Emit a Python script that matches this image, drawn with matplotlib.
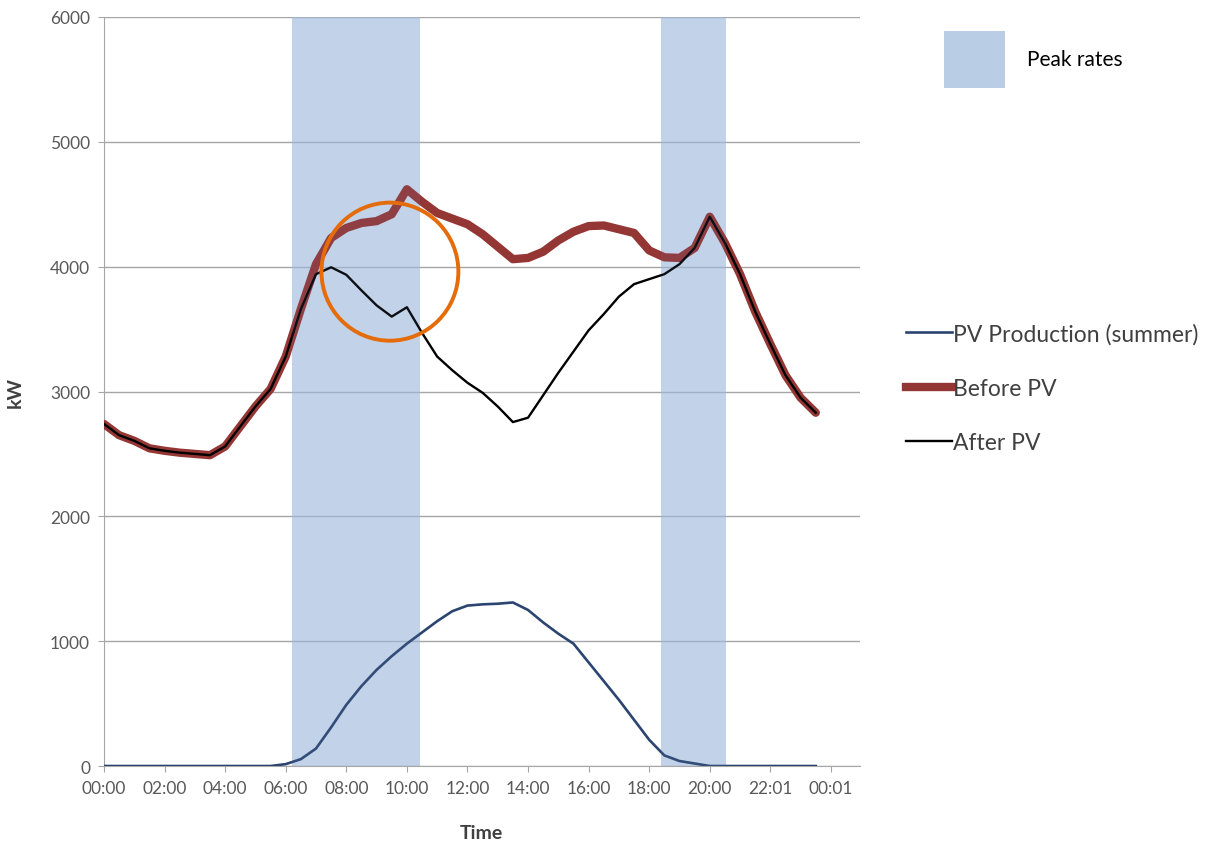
import matplotlib
matplotlib.use("Agg")
import matplotlib.pyplot as plt
from matplotlib.lines import Line2D
from matplotlib.patches import Patch, Ellipse

plt.rcParams['font.family'] = ['Lato', 'DejaVu Sans']

# half-hour steps over the day (hours)
hours = [h * 0.5 for h in range(48)]

before_pv = [2740, 2650, 2605, 2545, 2525, 2510, 2500, 2490,
             2560, 2720, 2880, 3020, 3280, 3660, 4020, 4230,
             4310, 4350, 4365, 4420, 4620, 4520, 4430, 4385,
             4340, 4260, 4160, 4060, 4070, 4120, 4210, 4280,
             4325, 4330, 4300, 4270, 4130, 4075, 4070, 4150,
             4400, 4190, 3940, 3640, 3380, 3130, 2950, 2830]

after_pv = [2740, 2650, 2605, 2545, 2525, 2510, 2500, 2490,
            2560, 2720, 2880, 3020, 3280, 3660, 3940, 3995,
            3935, 3810, 3690, 3600, 3675, 3470, 3280, 3170,
            3070, 2990, 2880, 2755, 2790, 2970, 3150, 3320,
            3490, 3620, 3760, 3860, 3900, 3940, 4020, 4150,
            4400, 4190, 3940, 3640, 3380, 3130, 2950, 2830]

pv_summer = [0, 0, 0, 0, 0, 0, 0, 0,
             0, 0, 0, 0, 15, 55, 140, 310,
             490, 640, 770, 880, 980, 1070, 1160, 1240,
             1285, 1295, 1300, 1310, 1250, 1150, 1060, 980,
             830, 680, 530, 370, 210, 85, 40, 20,
             0, 0, 0, 0, 0, 0, 0, 0]

peak_periods = [(6.2, 10.43), (18.38, 20.53)]
tick_hours = list(range(0, 25, 2))
tick_labels = ['00:00', '02:00', '04:00', '06:00', '08:00', '10:00', '12:00',
               '14:00', '16:00', '18:00', '20:00', '22:01', '00:01']

band_color = '#a9c1e2'
red = '#943634'
navy = '#2b4570'

fig = plt.figure(figsize=(12.16, 8.45), dpi=100)
ax = fig.add_axes([0.0855, 0.0923, 0.6215, 0.8864])

for start, end in peak_periods:
    ax.axvspan(start, end, color=band_color, alpha=0.58, zorder=2, lw=0)
    ax.axvspan(start, end, color='#6f8fc0', alpha=0.11, zorder=5, lw=0)

ax.plot(hours, pv_summer, color=navy, lw=1.9, zorder=3,
        solid_joinstyle='round')
ax.plot(hours, before_pv, color=red, lw=6, zorder=3,
        solid_joinstyle='round', solid_capstyle='round')
ax.plot(hours, after_pv, color='black', lw=1.7, zorder=4,
        solid_joinstyle='round')

# highlight around the morning peak
ax.add_patch(Ellipse((9.44, 3960), 4.52, 1106, fill=False,
                     edgecolor='#e46c0a', lw=2.8, zorder=6))

ax.set_xlim(0, 24.95)
ax.set_ylim(0, 6000)
ax.set_yticks(range(0, 6001, 1000))
ax.set_xticks(tick_hours)
ax.set_xticklabels(tick_labels)
ax.grid(axis='y', color='#a6a6a6', lw=1, zorder=0)
ax.set_axisbelow(True)
for side in ['top', 'right']:
    ax.spines[side].set_visible(False)
for side in ['left', 'bottom']:
    ax.spines[side].set_color('#a6a6a6')
ax.tick_params(colors='#a6a6a6', labelcolor='#595959', labelsize=12.5,
               length=4, direction='out', pad=6)
ax.set_xlabel('Time', fontsize=14, fontweight='bold', color='#404040',
              labelpad=20)
ax.set_ylabel('kW', fontsize=14, fontweight='bold', color='#404040',
              labelpad=19)

peak_leg = fig.legend([Patch(facecolor='#b9cde5', edgecolor='none')],
                      ['Peak rates'], loc='upper left',
                      bbox_to_anchor=(0.761, 0.984), frameon=False,
                      fontsize=15, handlelength=2.9, handleheight=3.8,
                      handletextpad=1.1)

line_handles = [Line2D([], [], color=navy, lw=1.9),
                Line2D([], [], color=red, lw=6),
                Line2D([], [], color='black', lw=1.7)]
fig.legend(line_handles, ['PV Production (summer)', 'Before PV', 'After PV'],
           loc='upper left', bbox_to_anchor=(0.728, 0.641), frameon=False,
           fontsize=16.5, handlelength=2.0, handletextpad=0.05,
           labelspacing=1.45, labelcolor='#404040')

fig.savefig('out.png', dpi=100)
